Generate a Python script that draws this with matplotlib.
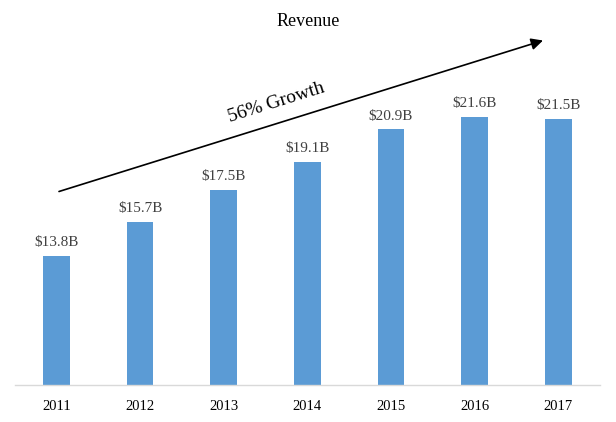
import matplotlib
matplotlib.use("Agg")
import matplotlib.pyplot as plt

years = ["2011", "2012", "2013", "2014", "2015", "2016", "2017"]
revenue = [13.8, 15.7, 17.5, 19.1, 20.9, 21.6, 21.5]
value_labels = ["$13.8B", "$15.7B", "$17.5B", "$19.1B", "$20.9B", "$21.6B", "$21.5B"]
title = "Revenue"
growth_label = "56% Growth"

plt.rcParams['font.family'] = ['Liberation Serif', 'DejaVu Serif']

W, H = 616, 422
fig = plt.figure(figsize=(W / 100, H / 100), dpi=100)
ax = fig.add_axes([14.7 / W, 37 / H, (600 - 14.7) / W, 385 / H])

x = list(range(len(years)))
ax.bar(x, revenue, width=0.32, color="#5B9BD5", zorder=2)
ax.set_xlim(-0.5, len(years) - 0.5)
ax.set_ylim(6.56, 6.56 + 385 / 17.82)

for xi, v, lab in zip(x, revenue, value_labels):
    ax.annotate(lab, (xi, v), xytext=(0, 5), textcoords="offset points",
                ha="center", va="bottom", fontsize=11, color="#404040")

ax.set_xticks(x)
ax.set_xticklabels(years, fontsize=10.5, color="black")
ax.tick_params(axis="x", length=0, pad=11)
ax.set_yticks([])
for s in ["left", "right", "top"]:
    ax.spines[s].set_visible(False)
ax.spines["bottom"].set_color("#D9D9D9")
ax.spines["bottom"].set_linewidth(1.0)

# title
fig.text(308 / W, 1 - 21 / H, title, ha="center", va="center", fontsize=13, color="black")

# growth arrow
x0, y0 = 59 / W, 1 - 191.5 / H
x1, y1 = 543 / W, 1 - 40.5 / H
fig.add_artist(matplotlib.patches.FancyArrowPatch(
    (x0, y0), (x1, y1), transform=fig.transFigure,
    arrowstyle="-|>,head_length=7,head_width=3.5", color="black",
    linewidth=1.2, shrinkA=0, shrinkB=0))
fig.text(276 / W, 1 - 103 / H, growth_label, ha="center", va="center",
         fontsize=14, rotation=17.5, rotation_mode="anchor", color="black")

fig.savefig("out.png", dpi=100)
